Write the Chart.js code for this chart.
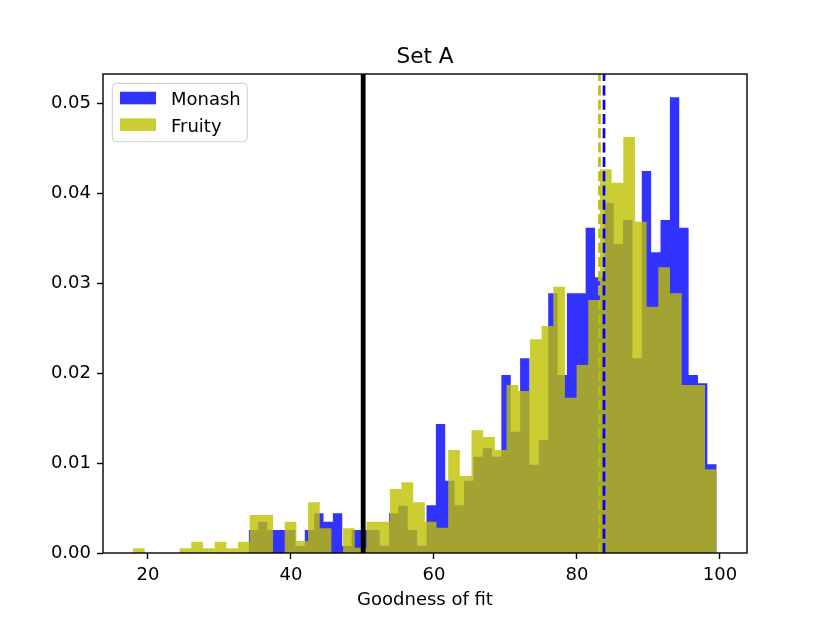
<!DOCTYPE html>
<html>
<head>
<meta charset="utf-8">
<script src="https://cdn.jsdelivr.net/npm/chart.js@4.4.0/dist/chart.umd.min.js"></script>
<style>
html, body { margin: 0; padding: 0; background: #ffffff; }
#wrap { width: 830px; height: 623px; }
</style>
</head>
<body>
<div id="wrap"><canvas id="c" width="830" height="623"></canvas></div>
<script>
// ---- data ----
const chartTitle = 'Set A';
const xAxisTitle = 'Goodness of fit';
const seriesNames = ['Monash', 'Fruity'];

// histogram ranges (first bin left edge, last bin right edge), 50 bins each
const monashRange = [34.08, 99.54];
const fruityRange = [17.90, 99.54];

// bar heights (density) per bin
const monashDensity = [
  0.00256, 0.00348, 0.00256, 0.00256, 0.00256, 0.00078, 0.00256, 0.00441, 0.00348, 0.00441,
  0.00078, 0.00256, 0.00256, 0.00256, 0.00081, 0.00441, 0.00526, 0.00256, 0.00081, 0.00530,
  0.01433, 0.00803, 0.00530, 0.00803, 0.01070, 0.01163, 0.01070, 0.01978, 0.01348, 0.02163,
  0.00981, 0.01256, 0.02886, 0.01978, 0.02886, 0.02886, 0.03614, 0.03063, 0.03886, 0.03433,
  0.03700, 0.02163, 0.04244, 0.03341, 0.03700, 0.05063, 0.03614, 0.01978, 0.01886, 0.00986
];
const fruityDensity = [
  0.00052, 0.00000, 0.00000, 0.00000, 0.00052, 0.00126, 0.00052, 0.00126, 0.00052, 0.00126,
  0.00422, 0.00422, 0.00000, 0.00348, 0.00133, 0.00563, 0.00274, 0.00000, 0.00274, 0.00059,
  0.00348, 0.00348, 0.00711, 0.00786, 0.00563, 0.00348, 0.00281, 0.01144, 0.00856, 0.01363,
  0.01289, 0.01144, 0.01867, 0.01800, 0.02374, 0.02522, 0.02959, 0.01726, 0.02089, 0.02811,
  0.04263, 0.04114, 0.04622, 0.03681, 0.02737, 0.03174, 0.02886, 0.01867, 0.01867, 0.00930
];

// vertical reference lines
const thresholdValue = 50.1;
const fruityMean = 83.15;
const monashMean = 83.78;

// axes
const xTicks = [20, 40, 60, 80, 100];
const yTicks = [0, 0.01, 0.02, 0.03, 0.04, 0.05];
const xLimits = [13.71, 103.78];
const yLimits = [0, 0.05322];

// ---- helpers ----
function histPoints(range, dens) {
  const w = (range[1] - range[0]) / dens.length;
  const pts = dens.map((d, i) => ({ x: range[0] + i * w, y: d }));
  pts.push({ x: range[1], y: dens[dens.length - 1] });
  return pts;
}
function vline(x) {
  return [{ x: x, y: yLimits[0] }, { x: x, y: yLimits[1] }];
}

const FONT = 'DejaVu Sans';
const blueFill = 'rgba(0,0,255,0.8)';
const yellowFill = 'rgba(191,191,0,0.8)';

const framePlugin = {
  id: 'mplFrame',
  afterDraw(chart) {
    const ctx = chart.ctx;
    const ca = chart.chartArea;
    ctx.save();
    // spines
    ctx.strokeStyle = '#000';
    ctx.lineWidth = 1.4;
    ctx.strokeRect(ca.left, ca.top, ca.right - ca.left, ca.bottom - ca.top);

    // legend
    const lx = ca.left + 9.3, ly = ca.top + 9.3, lw = 135, lh = 58.4, r = 4;
    ctx.beginPath();
    ctx.moveTo(lx + r, ly);
    ctx.lineTo(lx + lw - r, ly);
    ctx.quadraticCurveTo(lx + lw, ly, lx + lw, ly + r);
    ctx.lineTo(lx + lw, ly + lh - r);
    ctx.quadraticCurveTo(lx + lw, ly + lh, lx + lw - r, ly + lh);
    ctx.lineTo(lx + r, ly + lh);
    ctx.quadraticCurveTo(lx, ly + lh, lx, ly + lh - r);
    ctx.lineTo(lx, ly + r);
    ctx.quadraticCurveTo(lx, ly, lx + r, ly);
    ctx.closePath();
    ctx.fillStyle = 'rgba(255,255,255,0.8)';
    ctx.fill();
    ctx.strokeStyle = 'rgb(204,204,204)';
    ctx.lineWidth = 1;
    ctx.stroke();

    const ds = chart.data.datasets.slice(0, 2);
    ctx.font = '18px "' + FONT + '"';
    ctx.textBaseline = 'alphabetic';
    ctx.textAlign = 'left';
    ds.forEach((d, i) => {
      ctx.fillStyle = d.backgroundColor;
      ctx.fillRect(ca.left + 17, ca.top + 17.7 + i * 26.6, 36, 12.6);
      ctx.fillStyle = '#000';
      ctx.fillText(d.label, ca.left + 68, ca.top + 31 + i * 26.5);
    });
    ctx.restore();
  }
};

const ctx = document.getElementById('c').getContext('2d');
new Chart(ctx, {
  type: 'line',
  data: {
    datasets: [
      {
        label: seriesNames[0], data: histPoints(monashRange, monashDensity),
        stepped: true, fill: 'origin', backgroundColor: blueFill,
        borderWidth: 0, pointRadius: 0, order: 2
      },
      {
        label: seriesNames[1], data: histPoints(fruityRange, fruityDensity),
        stepped: true, fill: 'origin', backgroundColor: yellowFill,
        borderWidth: 0, pointRadius: 0, order: 1
      },
      {
        label: 'threshold', data: vline(thresholdValue), borderColor: '#000000',
        borderWidth: 4.8, pointRadius: 0, fill: false, order: 0
      },
      {
        label: 'Fruity mean', data: vline(fruityMean), borderColor: 'rgb(191,191,0)',
        borderWidth: 2.7, borderDash: [10, 4.3], pointRadius: 0, fill: false, order: 0
      },
      {
        label: 'Monash mean', data: vline(monashMean), borderColor: 'rgb(0,0,255)',
        borderWidth: 2.7, borderDash: [10, 4.3], pointRadius: 0, fill: false, order: 0
      }
    ]
  },
  options: {
    responsive: false,
    animation: false,
    devicePixelRatio: 1,
    layout: { padding: { left: 0, right: 83, top: 0, bottom: 0 } },
    plugins: {
      legend: { display: false },
      tooltip: { enabled: false },
      title: {
        display: true, text: chartTitle, fullSize: false, color: '#000',
        font: { family: FONT, size: 21.6, weight: 'normal' },
        padding: { top: 44.5, bottom: 3.6 }
      }
    },
    scales: {
      x: {
        type: 'linear', min: xLimits[0], max: xLimits[1],
        afterBuildTicks: (ax) => { ax.ticks = xTicks.map(v => ({ value: v })); },
        afterFit: (ax) => { ax.height = 70; },
        grid: { display: true, drawOnChartArea: false, drawTicks: true, tickLength: 6, tickWidth: 1.4, tickColor: '#000' },
        border: { display: false },
        ticks: {
          color: '#000', font: { family: FONT, size: 18 }, padding: 6,
          maxRotation: 0, autoSkip: false, callback: (v) => String(v)
        },
        title: {
          display: true, text: xAxisTitle, color: '#000',
          font: { family: FONT, size: 18 }, padding: { top: 0, bottom: 11.7 }
        }
      },
      y: {
        type: 'linear', min: yLimits[0], max: yLimits[1],
        afterBuildTicks: (ax) => { ax.ticks = yTicks.map(v => ({ value: v })); },
        afterFit: (ax) => { ax.width = 103; },
        grid: { display: true, drawOnChartArea: false, drawTicks: true, tickLength: 6, tickWidth: 1.4, tickColor: '#000' },
        border: { display: false },
        ticks: {
          color: '#000', font: { family: FONT, size: 18 }, padding: 6,
          autoSkip: false, callback: (v) => Number(v).toFixed(2)
        }
      }
    }
  },
  plugins: [framePlugin]
});
</script>
</body>
</html>
